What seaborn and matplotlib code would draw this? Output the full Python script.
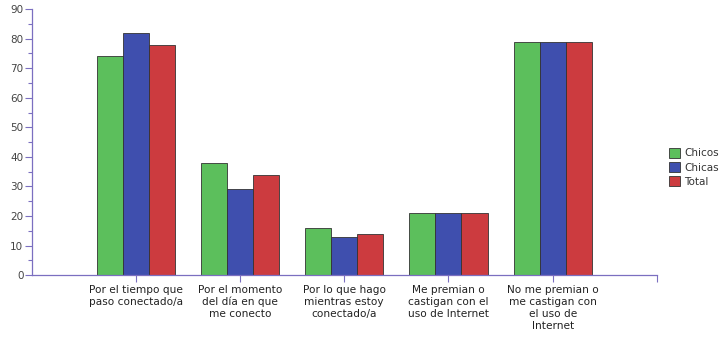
import matplotlib
matplotlib.use("Agg")
import matplotlib.pyplot as plt
import seaborn as sns
import pandas as pd
from matplotlib.ticker import MultipleLocator

categories = [
    "Por el tiempo que\npaso conectado/a",
    "Por el momento\ndel día en que\nme conecto",
    "Por lo que hago\nmientras estoy\nconectado/a",
    "Me premian o\ncastigan con el\nuso de Internet",
    "No me premian o\nme castigan con\nel uso de\nInternet",
]
series = ["Chicos", "Chicas", "Total"]
chicos = [74, 38, 16, 21, 79]
chicas = [82, 29, 13, 21, 79]
total = [78, 34, 14, 21, 79]

rows = []
for s, vals in zip(series, [chicos, chicas, total]):
    for c, v in zip(categories, vals):
        rows.append({"cat": c, "serie": s, "valor": v})
df = pd.DataFrame(rows)

sns.set_style("white")
plt.rcParams["font.family"] = ["DejaVu Sans"]

colors = ["#5cbf5c", "#3f4fae", "#cc3b3f"]
axis_col = "#7b6fc0"

fig = plt.figure(figsize=(7.21, 3.38), dpi=100)
ax = fig.add_axes([0.044, 0.186, 0.867, 0.787])
sns.barplot(data=df, x="cat", y="valor", hue="serie", order=categories,
            hue_order=series, palette=colors, width=0.75, ax=ax,
            edgecolor="#333333", linewidth=0.6, saturation=1, legend=True)

ax.set_xlim(-1, 5)
ax.set_ylim(0, 90)
ax.set_xlabel("")
ax.set_ylabel("")
ax.yaxis.set_major_locator(MultipleLocator(10))
ax.yaxis.set_minor_locator(MultipleLocator(5))
for side in ["top", "right"]:
    ax.spines[side].set_visible(False)
for side in ["left", "bottom"]:
    ax.spines[side].set_color(axis_col)
    ax.spines[side].set_linewidth(0.9)
ax.tick_params(axis="y", which="major", length=5, width=0.8, color=axis_col,
               labelsize=7.5, labelcolor="#444444", pad=1, left=True)
ax.tick_params(axis="y", which="minor", length=3, width=0.8, color=axis_col, left=True)
ax.tick_params(axis="x", which="major", length=5, width=0.8, color=axis_col,
               labelsize=7.6, labelcolor="#222222", pad=2, bottom=True)
ax.set_xticks(range(len(categories)))
ax.set_xticklabels(categories, linespacing=1.25)
ax.set_xticks([5], minor=True)
ax.tick_params(axis="x", which="minor", length=5, width=0.8, color=axis_col, bottom=True)

leg = ax.legend(loc="center left", bbox_to_anchor=(0.922, 0.505),
                bbox_transform=fig.transFigure, frameon=False, fontsize=7.5,
                handlelength=1.1, handleheight=1.1, handletextpad=0.4,
                labelspacing=0.35, borderaxespad=0)
for t in leg.get_texts():
    t.set_color("#333333")

fig.savefig("out.png", dpi=100)
